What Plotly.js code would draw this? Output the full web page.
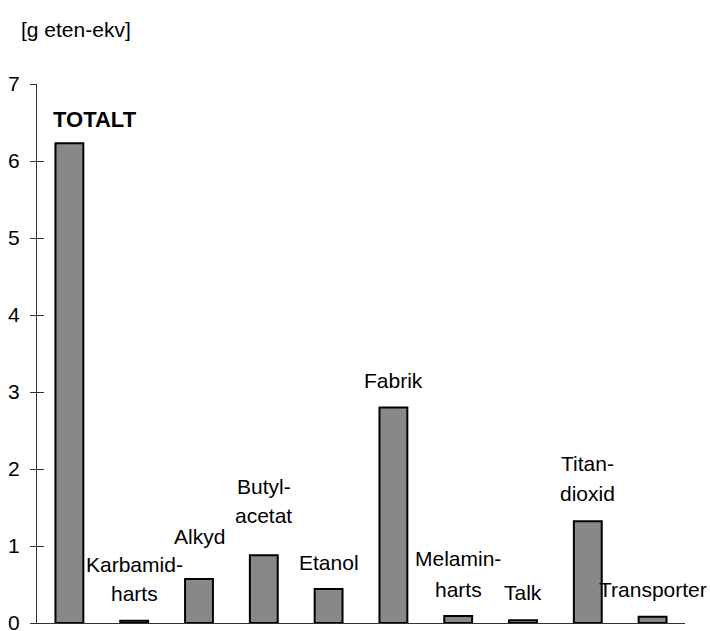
<!DOCTYPE html>
<html>
<head>
<meta charset="utf-8">
<script src="https://cdn.plot.ly/plotly-3.0.1.min.js"></script>
<style>html,body{margin:0;padding:0;background:#fff;}#chart{width:710px;height:631px;}</style>
</head>
<body>
<div id="chart"></div>
<script>
// Data
const categories = ["TOTALT", "Karbamid", "Alkyd", "Butylacetat", "Etanol", "Fabrik", "Melamin", "Talk", "Titandioxid", "Transporter"];
const values = [6.23, 0.03, 0.57, 0.88, 0.44, 2.80, 0.09, 0.035, 1.32, 0.08];
const yTicks = [0, 1, 2, 3, 4, 5, 6, 7];
const unitLabel = "[g eten-ekv]";
// Label lines: category, text, vertical position in data units
const labelCats  = ["Karbamid", "Karbamid", "Alkyd", "Butylacetat", "Butylacetat", "Etanol", "Fabrik", "Melamin", "Melamin", "Talk", "Titandioxid", "Titandioxid", "Transporter"];
const labelTexts = ["Karbamid-", "harts", "Alkyd", "Butyl-", "acetat", "Etanol", "Fabrik", "Melamin-", "harts", "Talk", "Titan-", "dioxid", "Transporter"];
const labelY     = [0.765, 0.389, 1.128, 1.776, 1.400, 0.791, 3.154, 0.836, 0.434, 0.395, 2.074, 1.679, 0.441];

const FONT = "Liberation Sans, Arial, sans-serif";

const annotations = labelTexts.map((t, i) => ({
  x: labelCats[i], y: labelY[i], xref: "x", yref: "y",
  text: t, showarrow: false, xanchor: "center", yanchor: "middle",
  font: {family: FONT, size: 21, color: "#000"}
}));
annotations.push({
  x: "TOTALT", y: 6.54, xref: "x", yref: "y", xshift: -18,
  text: "<b>TOTALT</b>", showarrow: false, xanchor: "left", yanchor: "middle",
  font: {family: FONT, size: 22, color: "#000"}
});
annotations.push({
  x: (19 - 37) / (710 - 37 - 25), y: 1 + (84 - 29) / (631 - 84 - 8),
  xref: "paper", yref: "paper",
  text: unitLabel, showarrow: false, xanchor: "left", yanchor: "middle",
  font: {family: FONT, size: 21, color: "#000"}
});

const traces = [
  {
    type: "bar", x: categories, y: values,
    marker: {color: "#888888", line: {color: "#000", width: 2}},
    hoverinfo: "skip", showlegend: false
  },
  {
    type: "scatter", mode: "markers", x: categories, y: categories.map(() => null),
    yaxis: "y2", hoverinfo: "skip", showlegend: false
  }
];

const layout = {
  width: 710, height: 631,
  margin: {l: 37, r: 25, t: 84, b: 8},
  paper_bgcolor: "#fff", plot_bgcolor: "#fff",
  bargap: 0.57,
  font: {family: FONT, size: 21, color: "#000"},
  xaxis: {
    type: "category", categoryorder: "array", categoryarray: categories,
    range: [-0.5, categories.length - 0.5], autorange: false,
    showticklabels: false, ticks: "", showgrid: false, zeroline: false,
    showline: true, linecolor: "#333", linewidth: 1, fixedrange: true
  },
  yaxis: {
    range: [0, 7], tickvals: yTicks, ticktext: yTicks.map(String),
    ticks: "outside", ticklen: 6, tickcolor: "#333", tickwidth: 1,
    showline: true, linecolor: "#333", linewidth: 1,
    showgrid: false, zeroline: false, ticklabelstandoff: 6,
    ticklabeloverflow: "allow",
    tickfont: {family: FONT, size: 21, color: "#000"}, fixedrange: true
  },
  yaxis2: {
    overlaying: "y", side: "left", range: [0, 7], tickvals: yTicks,
    ticks: "inside", ticklen: 7, tickcolor: "#333", tickwidth: 1,
    showticklabels: false, showline: false, showgrid: false, zeroline: false, fixedrange: true
  },
  annotations: annotations
};

Plotly.newPlot("chart", traces, layout, {staticPlot: true, displayModeBar: false});
</script>
</body>
</html>
